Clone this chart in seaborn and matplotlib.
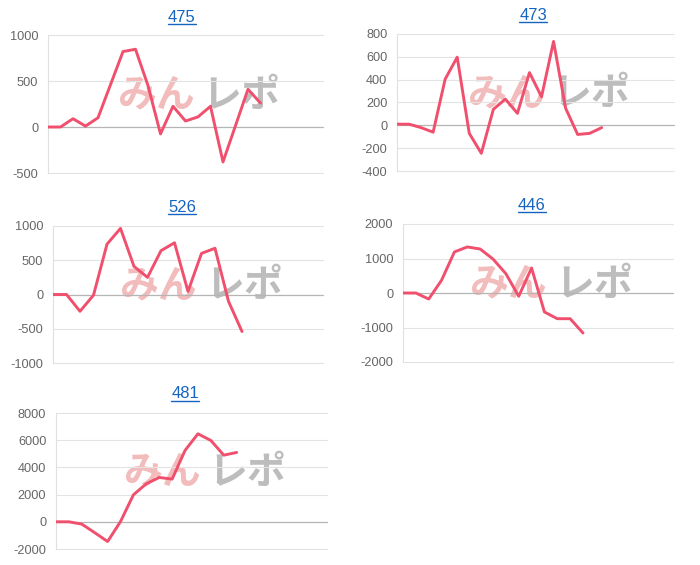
import matplotlib
matplotlib.use("Agg")
import matplotlib.pyplot as plt
import seaborn as sns
import numpy as np
from matplotlib.lines import Line2D

sns.set_theme(style="white")
plt.rcParams['font.family'] = ['Liberation Sans', 'Noto Sans CJK JP', 'DejaVu Sans']

# ---- data ----
titles = ["475", "473", "526", "446", "481"]
v475 = [0, 0, 90, 10, 100, 460, 820, 845, 450, -75, 225, 65, 110, 225, -380, 15, 410, 260]
v473 = [10, 10, -20, -60, 405, 597, -70, -245, 140, 230, 105, 462, 250, 735, 150, -80, -70, -20]
v526 = [0, 0, -245, -10, 735, 965, 410, 250, 640, 755, 45, 600, 675, -100, -540]
v446 = [0, 0, -175, 370, 1190, 1335, 1275, 985, 560, -95, 725, -550, -745, -745, -1160]
v481 = [0, 0, -170, -800, -1450, 20, 1985, 2800, 3260, 3140, 5250, 6470, 5980, 4900, 5100]
series = [v475, v473, v526, v446, v481]
n_labels = [23, 24, 21, 22, 22]
yticks = [
    [-500, 0, 500, 1000],
    [-400, -200, 0, 200, 400, 600, 800],
    [-1000, -500, 0, 500, 1000],
    [-2000, -1000, 0, 1000, 2000],
    [-2000, 0, 2000, 4000, 6000, 8000],
]

W, H = 700, 565
fig = plt.figure(figsize=(W / 100, H / 100), dpi=100)

# axes boxes in pixels: left, top, right, bottom
boxes = [
    (48, 35, 323, 173),
    (397, 34, 674, 171),
    (53, 226, 323, 363),
    (403, 224, 673, 362),
    (56, 413, 327, 549),
]
title_pos = [(182, 17), (533, 15), (182, 207), (532, 205), (185, 394)]

line_color = "#f0506e"
title_color = "#1565c0"
titles_objs = []

for i, (vals, box) in enumerate(zip(series, boxes)):
    l, t, r, b = box
    ax = fig.add_axes([l / W, 1 - b / H, (r - l) / W, (b - t) / H])
    x = np.arange(len(vals))
    sns.lineplot(x=x, y=vals, ax=ax, color=line_color, linewidth=2.1, zorder=5)
    ax.set_xlim(0, n_labels[i] - 1)
    yt = yticks[i]
    ax.set_ylim(yt[0], yt[-1])
    ax.set_yticks(yt)
    ax.set_yticklabels([str(v) for v in yt])
    ax.set_xticks([])
    ax.set_xlabel("")
    ax.set_ylabel("")
    for s in ["top", "right", "bottom"]:
        ax.spines[s].set_visible(False)
    ax.spines["left"].set_color("#e0e0e0")
    ax.spines["left"].set_linewidth(0.8)
    ax.tick_params(axis="y", length=5, width=0.8, color="#e0e0e0",
                   labelsize=9.2, labelcolor="#666666", pad=2)
    for v in yt:
        if v == 0:
            ax.axhline(v, color="#b5b5b5", linewidth=0.9, zorder=1, clip_on=False)
        else:
            ax.axhline(v, color="#e3e3e3", linewidth=0.8, zorder=1, clip_on=False)
    ax.set_facecolor("none")
    # watermark
    cx = (l + r) / 2
    cy = (t + b) / 2 - 9
    ax.text((cx - 30) / W, 1 - cy / H, "みん", color="#f2bcbc", fontsize=28,
            fontweight="bold", ha="center", va="center", transform=fig.transFigure,
            family=['Noto Sans CJK JP'], zorder=0)
    ax.text((cx + 56) / W, 1 - cy / H, "レポ", color="#bdbdbd", fontsize=28,
            fontweight="bold", ha="center", va="center", transform=fig.transFigure,
            family=['Noto Sans CJK JP'], zorder=0)
    tx, ty = title_pos[i]
    tobj = fig.text(tx / W, 1 - ty / H, titles[i], color=title_color, fontsize=12,
                    ha="center", va="center")
    titles_objs.append(tobj)

fig.canvas.draw()
renderer = fig.canvas.get_renderer()
for tobj in titles_objs:
    bb = tobj.get_window_extent(renderer)
    yline = bb.y0 + 1
    fig.add_artist(Line2D([bb.x0 / W, bb.x1 / W], [yline / H, yline / H],
                          color=title_color, linewidth=1.0,
                          transform=fig.transFigure))

fig.savefig("out.png", dpi=100)
